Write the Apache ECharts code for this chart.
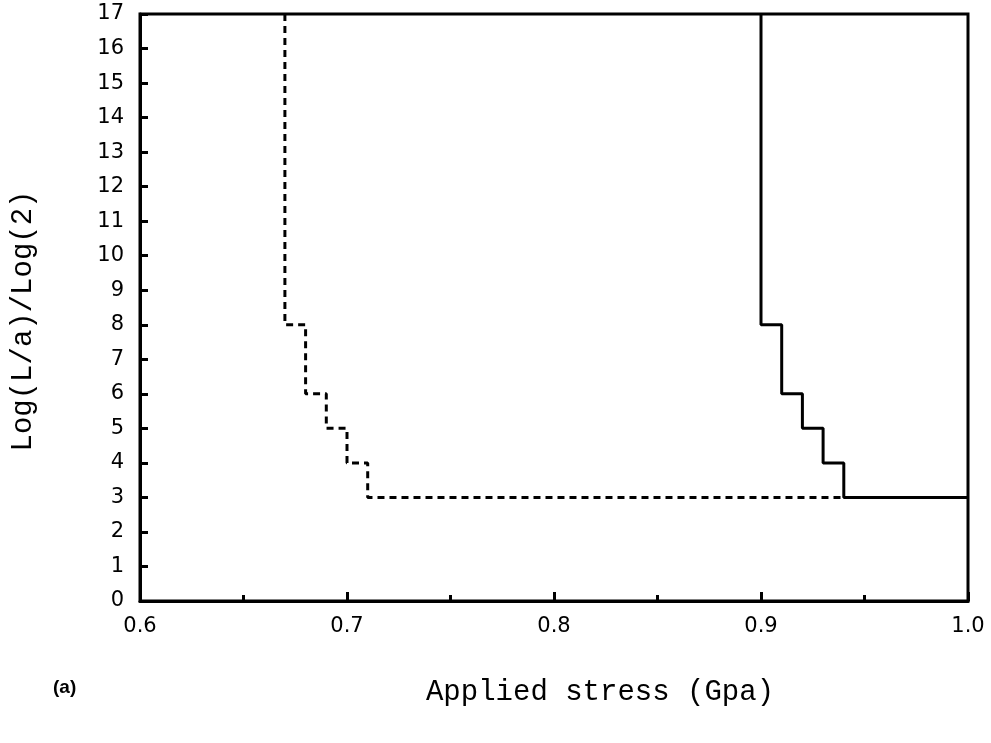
<!DOCTYPE html>
<html>
<head>
<meta charset="utf-8">
<script src="https://cdn.jsdelivr.net/npm/echarts@6/dist/echarts.min.js"></script>
<style>
  html, body { margin: 0; padding: 0; background: #fff; }
  #chart { width: 991px; height: 743px; }
</style>
</head>
<body>
<div id="chart"></div>
<script>
// Step boundaries: vertices of each staircase (stress in GPa, level log(L/a)/log(2))
const dashedStress = [0.67, 0.67, 0.68, 0.68, 0.69, 0.69, 0.70, 0.70, 0.71, 0.71, 0.94];
const dashedLevel  = [17,   8,    8,    6,    6,    5,    5,    4,    4,    3,    3];
const solidStress  = [0.90, 0.90, 0.91, 0.91, 0.92, 0.92, 0.93, 0.93, 0.94, 0.94, 1.00];
const solidLevel   = [17,   8,    8,    6,    6,    5,    5,    4,    4,    3,    3];

const xTitle = 'Applied stress (Gpa)';
const yTitle = 'Log(L/a)/Log(2)';
const panelTag = '(a)';

const pair = (xs, ys) => xs.map((x, i) => [x, ys[i]]);

const chart = echarts.init(document.getElementById('chart'), null, { renderer: 'canvas' });

const axisLine = { show: true, lineStyle: { color: '#000', width: 3 } };

chart.setOption({
  backgroundColor: '#fff',
  animation: false,
  grid: {
    left: 140, right: 23, top: 14, bottom: 142,
    show: true, borderColor: '#000', borderWidth: 3, backgroundColor: 'transparent'
  },
  xAxis: {
    type: 'value', min: 0.6, max: 1.0, interval: 0.1,
    axisLine: axisLine,
    axisTick: { show: true, inside: true, length: 9, lineStyle: { color: '#000', width: 3 } },
    minorTick: { show: true, splitNumber: 2, length: 6, lineStyle: { color: '#000', width: 3 } },
    splitLine: { show: false },
    axisLabel: {
      margin: 15, color: '#000', fontFamily: 'DejaVu Sans', fontSize: 21,
      formatter: v => v.toFixed(1)
    }
  },
  yAxis: {
    type: 'value', min: 0, max: 17, interval: 1,
    axisLine: axisLine,
    axisTick: { show: true, inside: true, length: 8, lineStyle: { color: '#000', width: 3 } },
    splitLine: { show: false },
    axisLabel: { margin: 16, color: '#000', fontFamily: 'DejaVu Sans', fontSize: 21 }
  },
  series: [
    {
      type: 'line', data: pair(dashedStress, dashedLevel), symbol: 'none',
      lineStyle: { color: '#000', width: 3, type: [7, 5] }, z: 3
    },
    {
      type: 'line', data: pair(solidStress, solidLevel), symbol: 'none',
      lineStyle: { color: '#000', width: 3, type: 'solid' }, z: 4
    }
  ],
  graphic: [
    {
      type: 'text', x: 600, y: 692,
      style: {
        text: xTitle, fill: '#000', font: '29px "Liberation Mono"',
        align: 'center', verticalAlign: 'middle'
      }
    },
    {
      type: 'text', x: 23, y: 321, rotation: Math.PI / 2,
      style: {
        text: yTitle, fill: '#000', font: '29px "Liberation Mono"',
        align: 'center', verticalAlign: 'middle'
      }
    },
    {
      type: 'text', x: 53, y: 688,
      style: {
        text: panelTag, fill: '#000', font: 'bold 19px "Liberation Sans"',
        align: 'left', verticalAlign: 'middle'
      }
    }
  ]
});
</script>
</body>
</html>
